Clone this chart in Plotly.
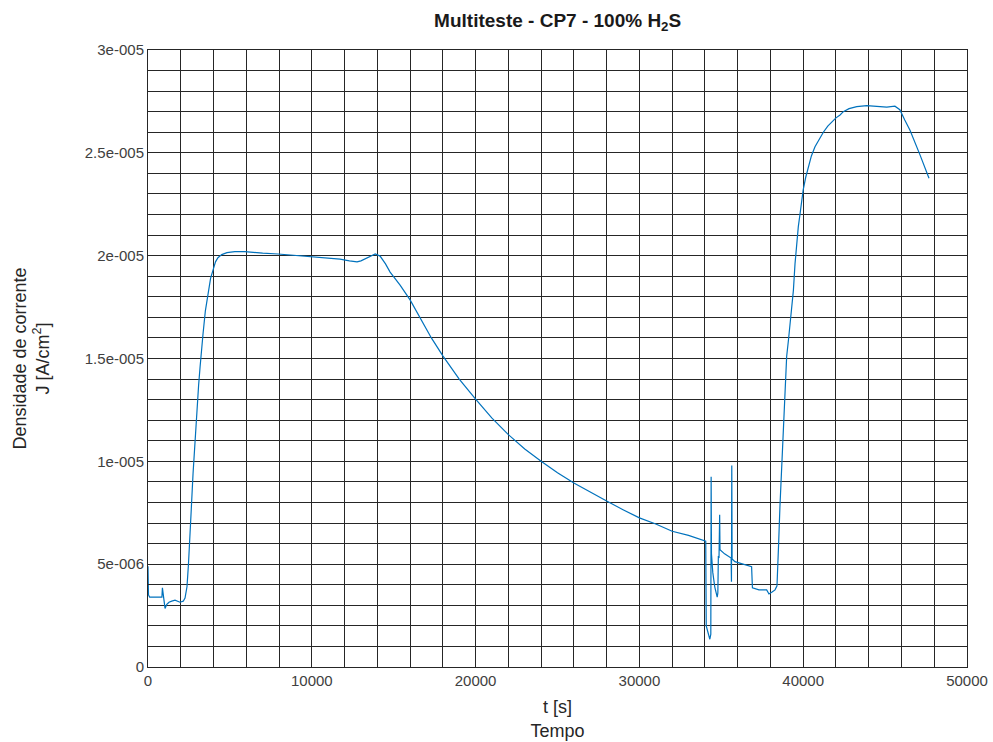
import plotly.graph_objects as go

# time [s]
t = [0, 30, 100, 850, 880, 920, 1040, 1150, 1280, 1450, 1650, 1950, 2150, 2260, 2330,
     2380, 2470, 2560, 2650, 2750, 2870, 2990, 3090, 3180, 3270, 3360, 3500, 3660, 3820,
     3970, 4120, 4270, 4500, 4820, 5300, 5920, 6500, 7000, 7940, 9000, 10000, 11000,
     11720, 12300, 12760, 13000, 13370, 13700, 13870, 14170, 14500, 14780, 15390, 16000,
     16600, 17300, 18000, 19000, 20000, 21000, 22000, 23000, 24000, 25000, 26000, 27000,
     28000, 29000, 30000, 31000, 32000, 33000, 33400, 34050, 34080, 34200, 34300, 34360,
     34380, 34400, 34480, 34600, 34750, 34790, 34820, 34860, 34900, 34920, 35200, 35530,
     35600, 35620, 35640, 35660, 35830, 36300, 36850, 36900, 37300, 37770, 37910, 38100,
     38280, 38400, 38420, 38500, 38580, 38690, 38790, 38890, 38990, 39100, 39200, 39300,
     39400, 39500, 39600, 39700, 39810, 40000, 40150, 40310, 40500, 40720, 41000, 41230,
     41500, 41740, 42000, 42250, 42450, 42800, 43270, 43880, 44500, 45100, 45600, 45900,
     46200, 46520, 47130, 47680]

# current density [1e-6 A/cm^2]
J_micro = [4.9, 3.5, 3.4, 3.4, 3.85, 3.6, 2.85, 3.05, 3.15, 3.2, 3.25, 3.15, 3.2, 3.35, 3.6,
           3.9, 5.0, 6.2, 7.8, 9.4, 11.1, 12.6, 13.7, 14.6, 15.5, 16.2, 17.3, 18.2, 18.9,
           19.3, 19.7, 19.9, 20.05, 20.15, 20.2, 20.2, 20.15, 20.12, 20.08, 20.02, 19.95, 19.9,
           19.83, 19.75, 19.7, 19.75, 19.9, 20.05, 20.08, 19.98, 19.6, 19.2, 18.57, 17.85,
           16.97, 16.0, 15.13, 14.0, 13.03, 12.1, 11.3, 10.6, 10.0, 9.45, 8.95, 8.5,
           8.07, 7.65, 7.25, 6.95, 6.6, 6.4, 6.3, 6.12, 2.0, 1.6, 1.35, 1.6,
           9.25, 5.5, 4.6, 3.9, 3.4, 3.6, 5.4, 5.3, 7.4, 5.7, 5.5, 5.36,
           5.3, 4.15, 9.8, 5.25, 5.12, 5.0, 4.88, 3.85, 3.75, 3.75, 3.55, 3.65,
           3.75, 3.95, 4.7, 6.0, 7.8, 9.8, 11.85, 13.6, 15.1, 15.9, 16.7, 17.5,
           18.3, 19.6, 20.76, 21.4, 22.05, 23.2, 23.8, 24.3, 24.85, 25.3, 25.7, 26.0,
           26.3, 26.5, 26.7, 26.84, 27.0, 27.15, 27.25, 27.3, 27.25, 27.22, 27.27, 27.1,
           26.6, 26.1, 24.9, 23.76]

J = [v * 1e-6 for v in J_micro]

x_ticks = [0, 10000, 20000, 30000, 40000, 50000]
x_ticktext = ["0", "10000", "20000", "30000", "40000", "50000"]
y_ticks = [0, 5e-6, 1e-5, 1.5e-5, 2e-5, 2.5e-5, 3e-5]
y_ticktext = ["0", "5e-006", "1e-005", "1.5e-005", "2e-005", "2.5e-005", "3e-005"]

GRID = "#262626"
FONT = "Liberation Sans, Arial, sans-serif"

fig = go.Figure()
fig.add_trace(go.Scatter(x=t, y=J, mode="lines",
                         line=dict(color="#0072BD", width=1.2),
                         showlegend=False))

fig.update_layout(
    width=993, height=742,
    paper_bgcolor="white", plot_bgcolor="white",
    margin=dict(l=148, r=26, t=50, b=75, autoexpand=False),
    font=dict(family=FONT, size=15, color="#404040"),
    title=dict(text="<b>Multiteste - CP7 - 100% H<sub>2</sub>S</b>",
               x=0.5616, xanchor="center", y=0.973, yanchor="middle",
               font=dict(family=FONT, size=19, color="#1a1a1a")),
)

fig.update_xaxes(
    range=[0, 50000], tickvals=x_ticks, ticktext=x_ticktext,
    automargin=False,
    showgrid=True, gridcolor=GRID, gridwidth=1,
    showline=True, linecolor="#262626", linewidth=1, mirror="allticks",
    ticks="inside", ticklen=6, tickcolor="#262626",
    minor=dict(dtick=2000, showgrid=True, gridcolor=GRID, gridwidth=1,
               ticks="inside", ticklen=4, tickcolor="#262626"),
    zeroline=False,
    tickfont=dict(size=15, color="#404040"),
    title=dict(text="t [s]<br>Tempo", standoff=12,
               font=dict(size=18, color="#262626")),
)
fig.update_yaxes(
    range=[0, 3e-5], tickvals=y_ticks, ticktext=y_ticktext,
    automargin=False,
    showgrid=True, gridcolor=GRID, gridwidth=1,
    showline=True, linecolor="#262626", linewidth=1, mirror="allticks",
    ticks="inside", ticklen=6, tickcolor="#262626",
    minor=dict(dtick=1e-6, showgrid=True, gridcolor=GRID, gridwidth=1,
               ticks="inside", ticklen=4, tickcolor="#262626"),
    zeroline=False,
    tickfont=dict(size=15, color="#404040"),
    title=dict(text="Densidade de corrente<br>J [A/cm<sup>2</sup>]", standoff=30,
               font=dict(size=18, color="#262626")),
)

fig.write_html("out.html")
